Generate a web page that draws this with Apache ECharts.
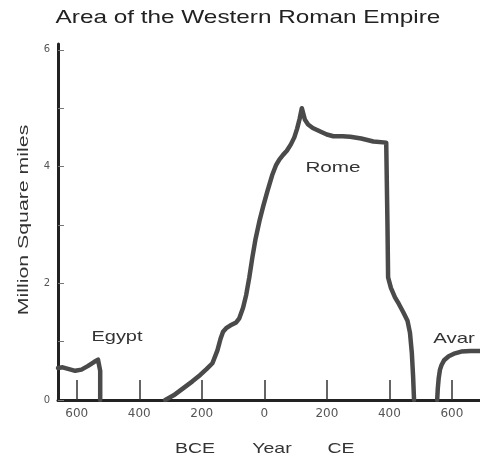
<!DOCTYPE html>
<html>
<head>
<meta charset="utf-8">
<script src="https://cdn.jsdelivr.net/npm/echarts@6/dist/echarts.min.js"></script>
<style>html,body{margin:0;padding:0;background:#fff}#c{width:480px;height:460px}</style>
</head>
<body>
<div id="c"></div>
<script>
// ---- data ----
var xTickValues = [-600, -400, -200, 0, 200, 400, 600];
var yTickValues = [0, 1, 2, 3, 4, 5, 6];
var yLabelValues = [0, 2, 4, 6];

var egyptYears = [-660, -645, -625, -605, -585, -565, -545, -532, -526, -525, -525];
var egyptArea  = [0.55, 0.56, 0.53, 0.50, 0.52, 0.58, 0.65, 0.69, 0.68, 0.50, 0.0];

var romeYears = [-317, -290, -260, -230, -205, -185, -166, -150, -140, -132, -122, -108, -90, -80, -68, -58, -48, -38, -28, -15, -3, 10, 25, 38, 48, 60, 72, 85, 96, 105, 113, 120, 124, 130, 140, 155, 179, 200, 221, 250, 275, 310, 349, 390, 393, 394, 396, 405, 418, 430, 445, 458, 466, 472, 476, 479];
var romeArea  = [0, 0.08, 0.2, 0.32, 0.43, 0.53, 0.63, 0.85, 1.05, 1.17, 1.23, 1.28, 1.33, 1.4, 1.58, 1.8, 2.1, 2.45, 2.76, 3.08, 3.33, 3.58, 3.85, 4.03, 4.12, 4.2, 4.27, 4.38, 4.5, 4.65, 4.82, 5.0, 4.92, 4.8, 4.72, 4.66, 4.6, 4.55, 4.52, 4.52, 4.51, 4.48, 4.43, 4.41, 4.38, 3.0, 2.1, 1.92, 1.76, 1.65, 1.5, 1.36, 1.15, 0.8, 0.4, 0];

var avarYears = [553, 555, 558, 562, 567, 575, 590, 610, 630, 660, 690];
var avarArea  = [0, 0.2, 0.38, 0.52, 0.6, 0.68, 0.75, 0.8, 0.83, 0.84, 0.84];

var titleText = 'Area of the Western Roman Empire';
var yName = 'Million Square miles';
var xNames = ['BCE', 'Year', 'CE'];
var seriesNames = ['Egypt', 'Rome', 'Avar'];

function pairs(xs, ys) { return xs.map(function (x, i) { return [x, ys[i]]; }); }

var chart = echarts.init(document.getElementById('c'), null, { renderer: 'canvas' });
var lineColor = '#4a4a4a';
var FONT = '"Liberation Sans", Arial, Helvetica, sans-serif';

function txt(t, x, y, size, sx, color, rot) {
  var o = {
    type: 'text', x: x, y: y, scaleX: sx, scaleY: 1,
    style: { text: t, font: size + 'px ' + FONT, fill: color, textAlign: 'center', textVerticalAlign: 'middle', align: 'center', verticalAlign: 'middle' },
    z: 100
  };
  if (rot) { o.rotation = rot; }
  return o;
}

var option = {
  animation: false,
  backgroundColor: '#fff',
  grid: { left: 58, right: 0, top: 44, bottom: 60, containLabel: false },
  xAxis: {
    type: 'value', min: -660, max: 690,
    splitLine: { show: false },
    axisLine: { show: true, onZero: false, lineStyle: { color: '#222', width: 3 } },
    axisTick: { show: true, inside: true, length: 20, customValues: xTickValues, lineStyle: { color: '#333', width: 1.5 } },
    axisLabel: { show: true, customValues: xTickValues, margin: 8, color: '#555', fontFamily: '"DejaVu Sans"', fontSize: 12,
      formatter: function (v) { return String(Math.abs(v)); } }
  },
  yAxis: {
    type: 'value', min: 0, max: 6.1,
    splitLine: { show: false },
    axisLine: { show: true, onZero: false, lineStyle: { color: '#222', width: 3 } },
    axisTick: { show: true, inside: true, length: 6, customValues: yTickValues, lineStyle: { color: '#777', width: 1 } },
    axisLabel: { show: true, customValues: yLabelValues, margin: 8, color: '#555', fontFamily: '"DejaVu Sans"', fontSize: 10 }
  },
  series: [
    { name: seriesNames[0], type: 'line', data: pairs(egyptYears, egyptArea), showSymbol: false, smooth: false,
      lineStyle: { color: lineColor, width: 4.5, cap: 'round', join: 'round' } },
    { name: seriesNames[1], type: 'line', data: pairs(romeYears, romeArea), showSymbol: false, smooth: false,
      lineStyle: { color: lineColor, width: 4.5, cap: 'round', join: 'round' } },
    { name: seriesNames[2], type: 'line', data: pairs(avarYears, avarArea), showSymbol: false, smooth: false,
      lineStyle: { color: lineColor, width: 4.5, cap: 'round', join: 'round' } }
  ],
  graphic: [
    txt(titleText, 248, 18, 19, 1.28, '#222'),
    txt(yName, 24, 220, 15, 1.42, '#333', Math.PI / 2),
    txt(xNames[0], 195, 449, 15, 1.3, '#333'),
    txt(xNames[1], 272, 449, 15, 1.3, '#333'),
    txt(xNames[2], 341, 449, 15, 1.3, '#333'),
    txt(seriesNames[0], 117, 337, 15, 1.33, '#333'),
    txt(seriesNames[1], 333, 168, 15, 1.38, '#333'),
    txt(seriesNames[2], 454, 339, 15, 1.36, '#333')
  ]
};
chart.setOption(option);
</script>
</body>
</html>
